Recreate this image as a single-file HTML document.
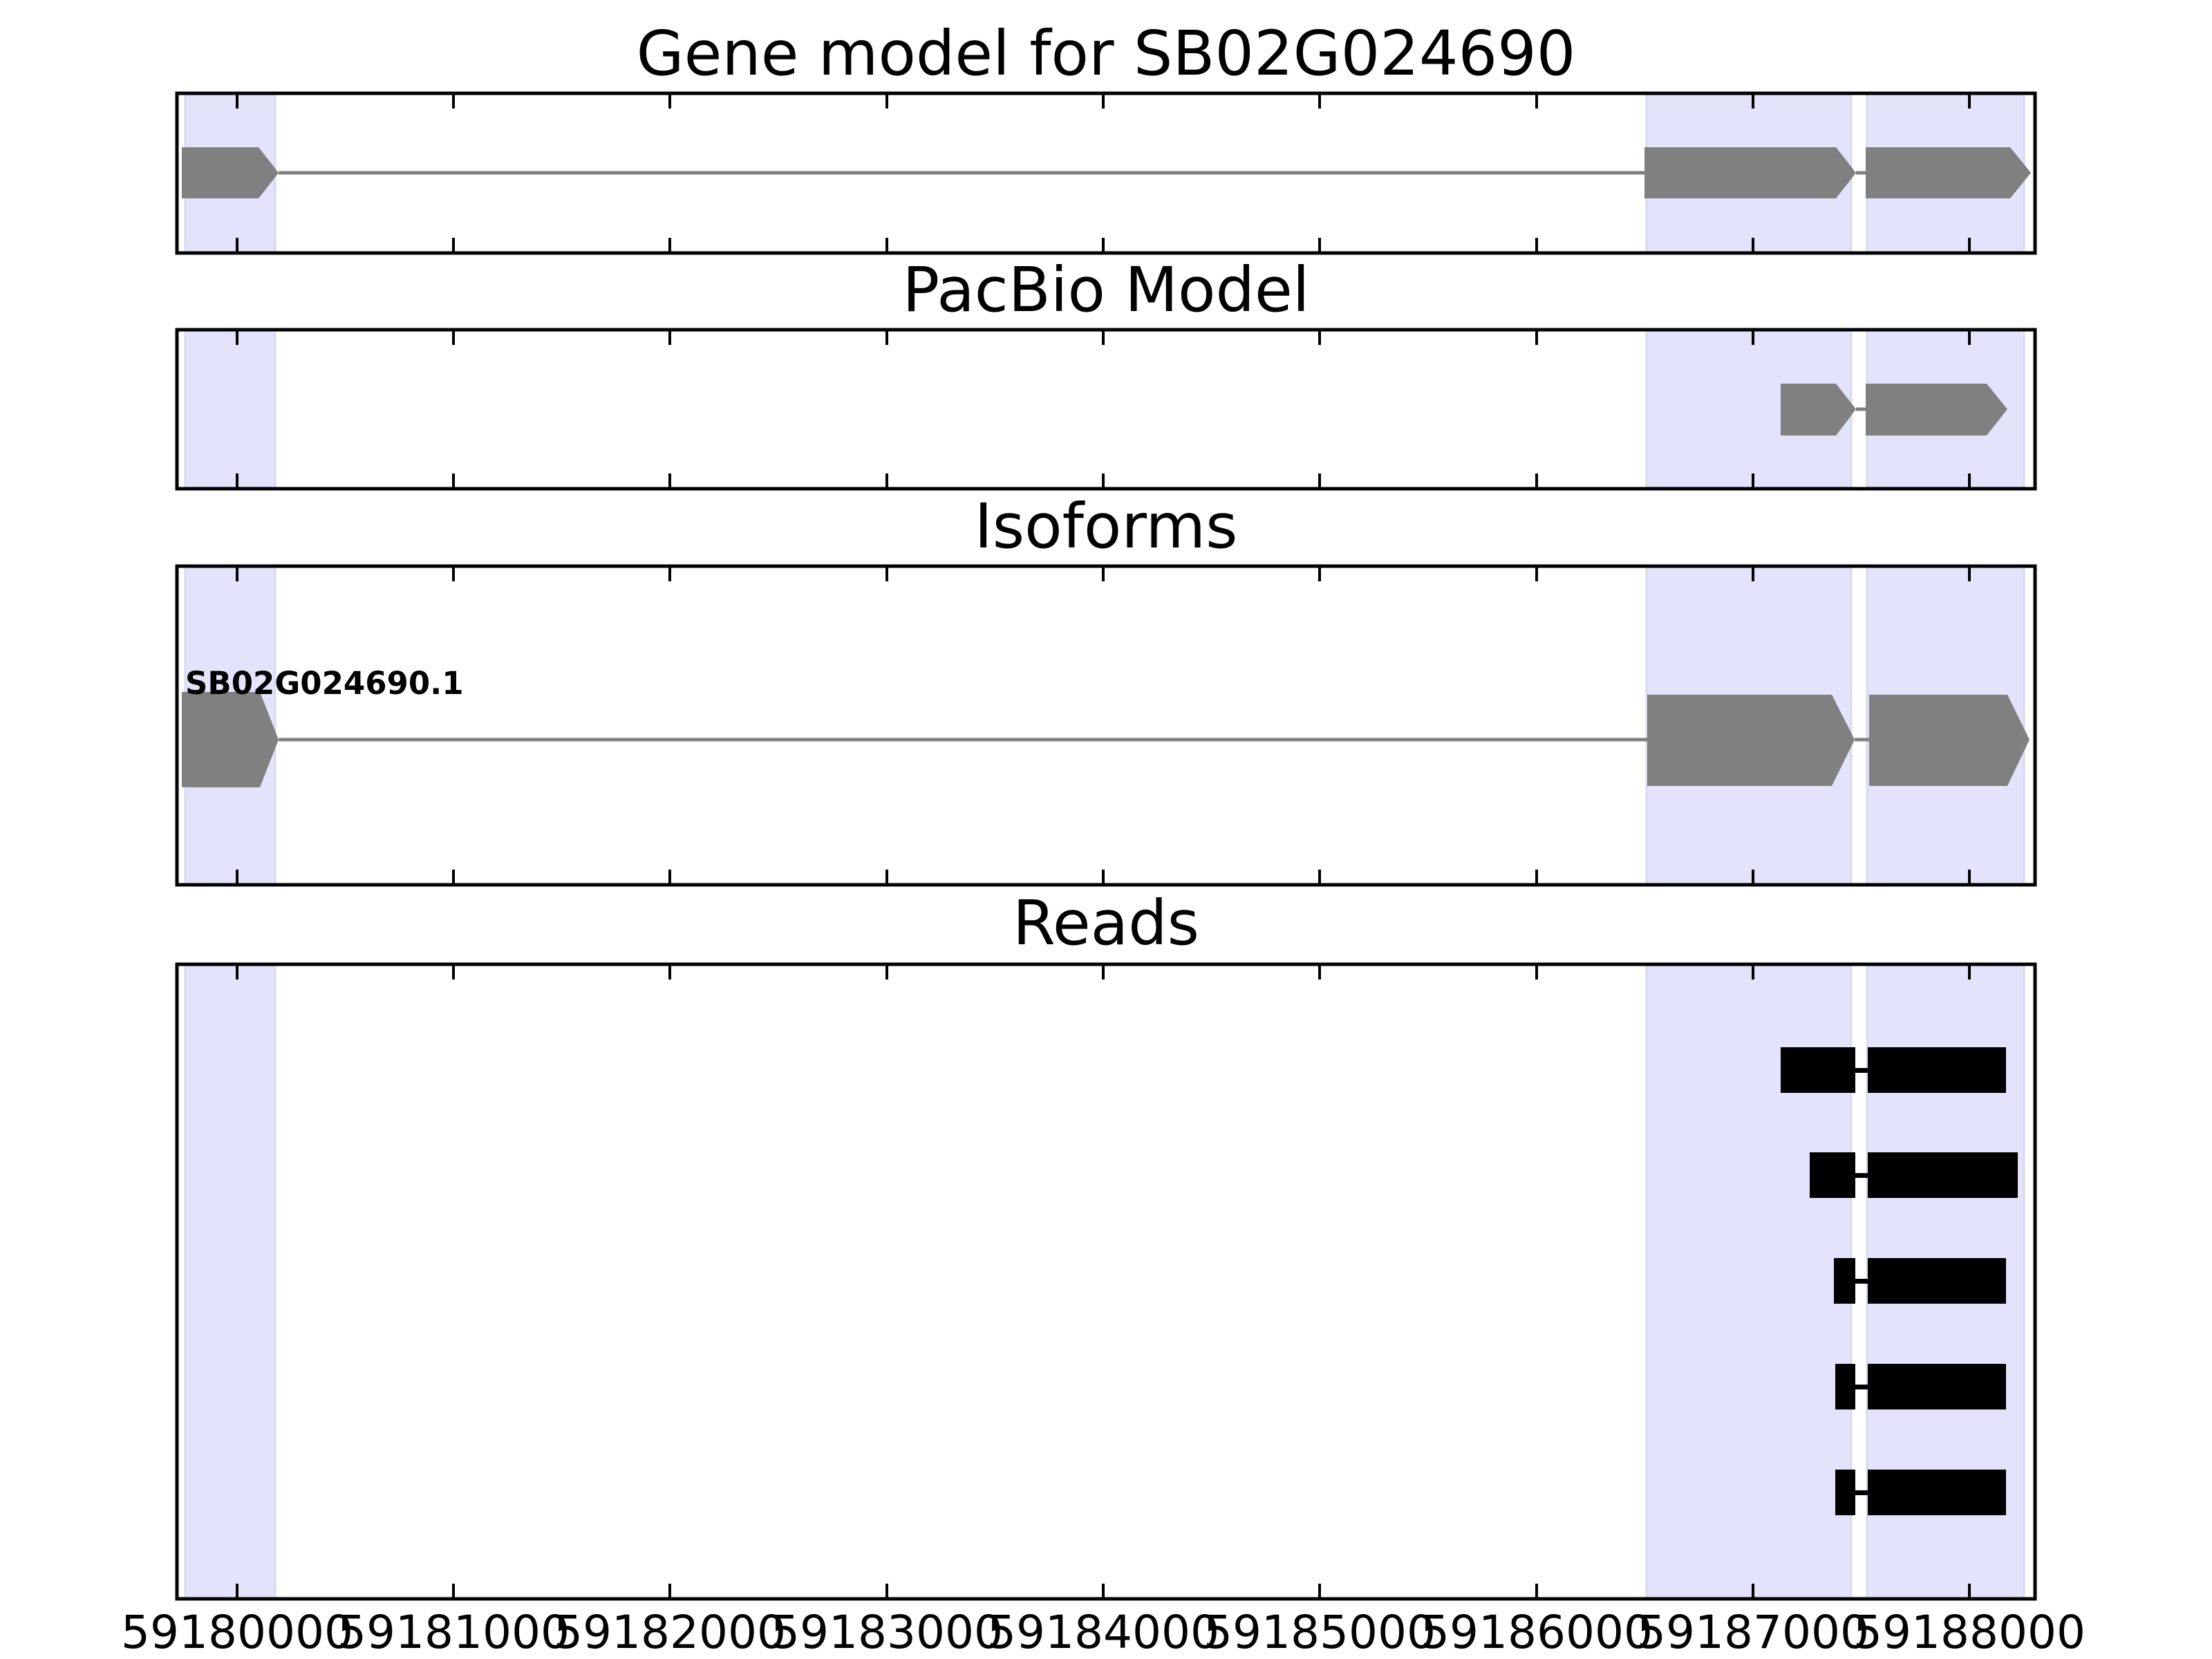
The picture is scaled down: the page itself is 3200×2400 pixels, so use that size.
<!DOCTYPE html>
<html><head><meta charset="utf-8"><style>html,body{margin:0;padding:0;background:#fff;width:3200px;height:2400px;overflow:hidden}svg{display:block}</style></head>
<body>
<svg width="3200" height="2400" viewBox="0 0 3200 2400" xmlns="http://www.w3.org/2000/svg" font-family="DejaVu Sans, Liberation Sans, sans-serif">
<defs>
<g id="bands">
<rect x="268" width="130" height="10000" fill="#e3e3fb" stroke="#d9d9ee" stroke-width="3"/>
<rect x="2382" width="296" height="10000" fill="#e3e3fb" stroke="#d9d9ee" stroke-width="3"/>
<rect x="2701" width="227" height="10000" fill="#e3e3fb" stroke="#d9d9ee" stroke-width="3"/>
</g>
</defs>
<rect width="3200" height="2400" fill="#fff"/>

<svg x="0" y="135" width="3200" height="231" overflow="hidden"><use href="#bands"/></svg>
<line x1="403" y1="250" x2="2379" y2="250" stroke="#808080" stroke-width="5"/>
<line x1="2685" y1="250" x2="2699" y2="250" stroke="#808080" stroke-width="5"/>
<polygon points="263,213 374,213 403,250 374,287 263,287" fill="#808080"/>
<polygon points="2379,213 2656,213 2685,250 2656,287 2379,287" fill="#808080"/>
<polygon points="2699,213 2908,213 2938,250 2908,287 2699,287" fill="#808080"/>
<rect x="256" y="135" width="2688" height="231" fill="none" stroke="#000" stroke-width="5"/>

<svg x="0" y="477" width="3200" height="230" overflow="hidden"><use href="#bands"/></svg>
<line x1="2685" y1="592" x2="2699" y2="592" stroke="#808080" stroke-width="5"/>
<polygon points="2576,555 2656,555 2685,592 2656,630 2576,630" fill="#808080"/>
<polygon points="2699,555 2874,555 2904,592 2874,630 2699,630" fill="#808080"/>
<rect x="256" y="477" width="2688" height="230" fill="none" stroke="#000" stroke-width="5"/>

<svg x="0" y="819" width="3200" height="461" overflow="hidden"><use href="#bands"/></svg>
<line x1="403" y1="1070" x2="2383" y2="1070" stroke="#808080" stroke-width="5"/>
<line x1="2683" y1="1070" x2="2704" y2="1070" stroke="#808080" stroke-width="5"/>
<polygon points="263,1001 376,1001 403,1070 376,1139 263,1139" fill="#808080"/>
<polygon points="2383,1005 2650,1005 2683,1070 2650,1137 2383,1137" fill="#808080"/>
<polygon points="2704,1005 2904,1005 2936,1070 2904,1137 2704,1137" fill="#808080"/>
<text x="268" y="1004" font-size="45" font-weight="bold" fill="#000">SB02G024690.1</text>
<rect x="256" y="819" width="2688" height="461" fill="none" stroke="#000" stroke-width="5"/>

<svg x="0" y="1395" width="3200" height="918" overflow="hidden"><use href="#bands"/></svg>
<g fill="#000">
<rect x="2576" y="1515" width="108" height="66"/><rect x="2702" y="1515" width="200" height="66"/><rect x="2684" y="1545" width="18" height="7"/>
<rect x="2618" y="1667" width="66" height="66"/><rect x="2702" y="1667" width="217" height="66"/><rect x="2684" y="1697" width="18" height="7"/>
<rect x="2653" y="1820" width="31" height="66"/><rect x="2702" y="1820" width="200" height="66"/><rect x="2684" y="1850" width="18" height="7"/>
<rect x="2655" y="1973" width="29" height="66"/><rect x="2702" y="1973" width="200" height="66"/><rect x="2684" y="2003" width="18" height="7"/>
<rect x="2655" y="2126" width="29" height="66"/><rect x="2702" y="2126" width="200" height="66"/><rect x="2684" y="2156" width="18" height="7"/>
</g>
<rect x="256" y="1395" width="2688" height="918" fill="none" stroke="#000" stroke-width="5"/>

<g stroke="#000" stroke-width="4">
<path d="M343 137v20M656 137v20M969 137v20M1283 137v20M1596 137v20M1909 137v20M2223 137v20M2536 137v20M2849 137v20
M343 364v-20M656 364v-20M969 364v-20M1283 364v-20M1596 364v-20M1909 364v-20M2223 364v-20M2536 364v-20M2849 364v-20
M343 479v20M656 479v20M969 479v20M1283 479v20M1596 479v20M1909 479v20M2223 479v20M2536 479v20M2849 479v20
M343 705v-20M656 705v-20M969 705v-20M1283 705v-20M1596 705v-20M1909 705v-20M2223 705v-20M2536 705v-20M2849 705v-20
M343 821v20M656 821v20M969 821v20M1283 821v20M1596 821v20M1909 821v20M2223 821v20M2536 821v20M2849 821v20
M343 1278v-20M656 1278v-20M969 1278v-20M1283 1278v-20M1596 1278v-20M1909 1278v-20M2223 1278v-20M2536 1278v-20M2849 1278v-20
M343 1397v20M656 1397v20M969 1397v20M1283 1397v20M1596 1397v20M1909 1397v20M2223 1397v20M2536 1397v20M2849 1397v20
M343 2311v-20M656 2311v-20M969 2311v-20M1283 2311v-20M1596 2311v-20M1909 2311v-20M2223 2311v-20M2536 2311v-20M2849 2311v-20"/>
</g>

<g font-size="89" text-anchor="middle" fill="#000">
<text x="1600" y="108">Gene model for SB02G024690</text>
<text x="1600" y="450">PacBio Model</text>
<text x="1600" y="792">Isoforms</text>
<text x="1600" y="1366">Reads</text>
</g>

<g font-size="66" text-anchor="middle" fill="#000">
<text x="343" y="2384">59180000</text>
<text x="656" y="2384">59181000</text>
<text x="969" y="2384">59182000</text>
<text x="1283" y="2384">59183000</text>
<text x="1596" y="2384">59184000</text>
<text x="1909" y="2384">59185000</text>
<text x="2223" y="2384">59186000</text>
<text x="2536" y="2384">59187000</text>
<text x="2849" y="2384">59188000</text>
</g>
</svg>
</body></html>
